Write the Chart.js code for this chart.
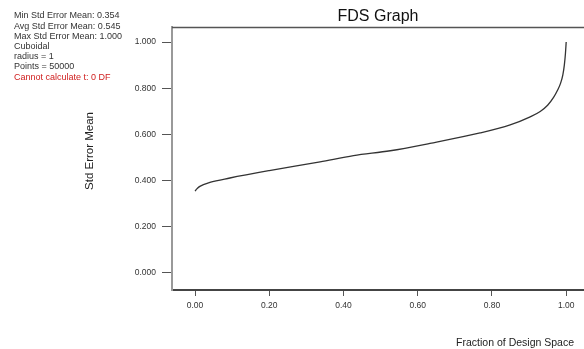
<!DOCTYPE html>
<html>
<head>
<meta charset="utf-8">
<script src="https://cdn.jsdelivr.net/npm/chart.js@4/dist/chart.umd.min.js"></script>
<style>
  html, body { margin: 0; padding: 0; background: #fff; }
  canvas { display: block; }
</style>
</head>
<body>
<canvas id="fds" width="584" height="349"></canvas>
<script>
//values
const fraction = [0, 0.005, 0.013, 0.04, 0.094, 0.2, 0.337, 0.427, 0.526, 0.633, 0.768, 0.849, 0.903, 0.93, 0.95, 0.966, 0.977, 0.985, 0.991, 0.995, 0.998, 1.0]
const stdErrMean = [0.354, 0.364, 0.375, 0.392, 0.411, 0.443, 0.481, 0.508, 0.529, 0.561, 0.606, 0.641, 0.676, 0.699, 0.726, 0.760, 0.792, 0.822, 0.858, 0.900, 0.950, 1.0]
const xTicks = [0, 0.2, 0.4, 0.6, 0.8, 1.0]
const yTicks = [0, 0.2, 0.4, 0.6, 0.8, 1.0]
const infoLines = ['Min Std Error Mean: 0.354', 'Avg Std Error Mean: 0.545', 'Max Std Error Mean: 1.000', 'Cuboidal', 'radius = 1', 'Points = 50000']
const warning = 'Cannot calculate t: 0 DF'

const FONT = '"Liberation Sans", Arial, sans-serif'

//title, axis titles, top frame line and the stats block are painted by hand
const decorations = {
    id: 'decorations',
    afterDraw(chart) {
        const {ctx, chartArea: a} = chart
        ctx.save()
        ctx.strokeStyle = '#555'
        ctx.lineWidth = 1.5
        ctx.beginPath()
        ctx.moveTo(a.left, a.top + 0.5)
        ctx.lineTo(a.right, a.top + 0.5)
        ctx.stroke()

        ctx.fillStyle = '#111'
        ctx.font = '16px ' + FONT
        ctx.textAlign = 'center'
        ctx.textBaseline = 'middle'
        ctx.fillText('FDS Graph', (a.left + a.right) / 2, 17)

        ctx.font = '10.5px ' + FONT
        ctx.fillStyle = '#222'
        ctx.textAlign = 'right'
        ctx.fillText('Fraction of Design Space', 574, 343)

        ctx.font = '11.5px ' + FONT
        ctx.translate(90, 151)
        ctx.rotate(-Math.PI / 2)
        ctx.textAlign = 'center'
        ctx.fillText('Std Error Mean', 0, 0)
        ctx.restore()

        ctx.save()
        ctx.font = '9px ' + FONT
        ctx.textBaseline = 'middle'
        ctx.fillStyle = '#333'
        infoLines.forEach((t, i) => ctx.fillText(t, 14, 16 + i * 10.2))
        ctx.fillStyle = '#d02020'
        ctx.fillText(warning, 14, 16 + infoLines.length * 10.2)
        ctx.restore()
    }
}

new Chart(document.getElementById('fds'), {
    type: 'line',
    data: {
        datasets: [{
            data: fraction.map((x, i) => ({x, y: stdErrMean[i]})),
            borderColor: '#333',
            borderWidth: 1.3,
            pointRadius: 0,
            cubicInterpolationMode: 'monotone',
            fill: false
        }]
    },
    options: {
        responsive: false,
        animation: false,
        events: [],
        layout: {padding: {top: 27, left: 0, right: 0, bottom: 0}},
        plugins: {legend: {display: false}, tooltip: {enabled: false}, title: {display: false}},
        scales: {
            x: {
                type: 'linear',
                min: -0.062,
                max: 1.048,
                afterFit: s => { s.height = 59 },
                afterBuildTicks: s => { s.ticks = xTicks.map(v => ({value: v})) },
                border: {color: '#444', width: 2},
                grid: {drawOnChartArea: false, drawTicks: true, tickLength: 6, color: '#555', lineWidth: 1},
                ticks: {
                    color: '#333',
                    font: {family: FONT, size: 8.5},
                    padding: 5,
                    maxRotation: 0,
                    callback: v => v.toFixed(2)
                }
            },
            y: {
                type: 'linear',
                min: -0.074,
                max: 1.065,
                afterFit: s => { s.width = 172 },
                afterBuildTicks: s => { s.ticks = yTicks.map(v => ({value: v})) },
                border: {color: '#999', width: 2},
                grid: {drawOnChartArea: false, drawTicks: true, tickLength: 10, color: '#555', lineWidth: 1},
                ticks: {
                    color: '#333',
                    font: {family: FONT, size: 8.5},
                    padding: 6,
                    callback: v => v.toFixed(3)
                }
            }
        }
    },
    plugins: [decorations]
})
</script>
</body>
</html>
